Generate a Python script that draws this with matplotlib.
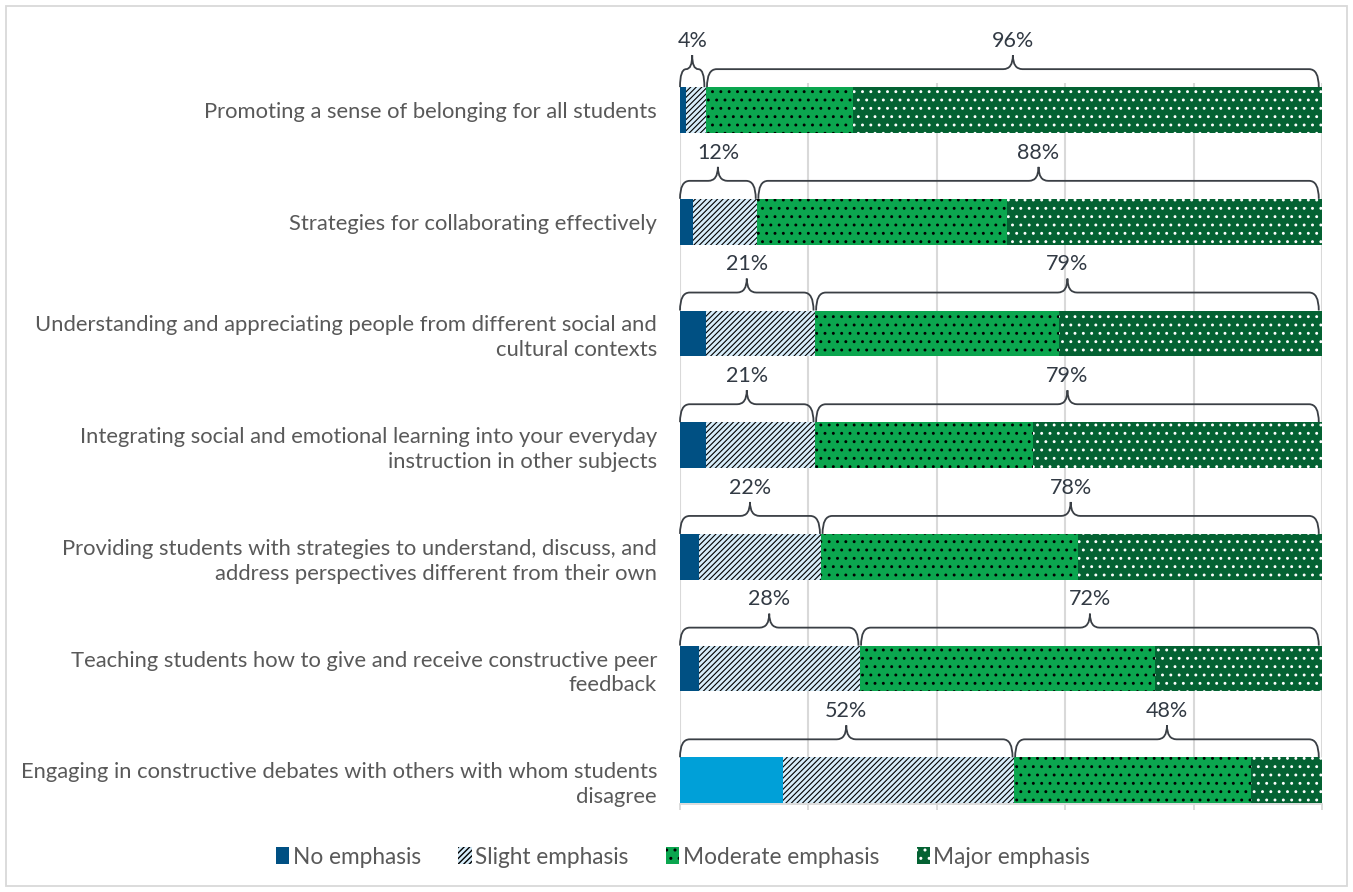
import matplotlib
matplotlib.use("Agg")
import matplotlib.pyplot as plt
from matplotlib.path import Path
from matplotlib.patches import PathPatch, Rectangle
import numpy as np

plt.rcParams["font.family"] = ["Lato", "DejaVu Sans"]

categories = [
    "Promoting a sense of belonging for all students",
    "Strategies for collaborating effectively",
    "Understanding and appreciating people from different social and\ncultural contexts",
    "Integrating social and emotional learning into your everyday\ninstruction in other subjects",
    "Providing students with strategies to understand, discuss, and\naddress perspectives different from their own",
    "Teaching students how to give and receive constructive peer\nfeedback",
    "Engaging in constructive debates with others with whom students\ndisagree",
]
series_names = ["No emphasis", "Slight emphasis", "Moderate emphasis", "Major emphasis"]
no_emphasis = [1, 2, 4, 4, 3, 3, 16]
slight_emphasis = [3, 10, 17, 17, 19, 25, 36]
moderate_emphasis = [23, 39, 38, 34, 40, 46, 37]
major_emphasis = [73, 49, 41, 45, 38, 26, 11]

# styles
no_colors = ["#005083"] * 6 + ["#00A0D8"]
styles = [
    dict(edgecolor="#005083", hatch=None, hlw=1.0),
    dict(color="#D7EDFA", edgecolor="black", hatch="//////", hlw=0.8),
    dict(color="#0BA64F", edgecolor="black", hatch="..", hlw=0.9),
    dict(color="#046233", edgecolor="white", hatch="..", hlw=0.9),
]

W, H = 1353, 892
fig = plt.figure(figsize=(W / 100, H / 100), dpi=100)
ax = fig.add_axes([680 / W, 1 - 804 / H, 642 / W, 721 / H])

y = np.arange(len(categories))
bar_h = 0.41
values = [no_emphasis, slight_emphasis, moderate_emphasis, major_emphasis]
left = np.zeros(len(categories))
handles = []
for k, (vals, st) in enumerate(zip(values, styles)):
    vals = np.asarray(vals, dtype=float)
    with plt.rc_context({"hatch.linewidth": st["hlw"]}):
        if k == 0:
            b = ax.barh(y, vals, left=left, height=bar_h, color=no_colors,
                        linewidth=0, label=series_names[k], zorder=3)
        else:
            b = ax.barh(y, vals, left=left, height=bar_h, color=st["color"],
                        edgecolor=st["edgecolor"], hatch=st["hatch"],
                        linewidth=0, label=series_names[k], zorder=3)
    handles.append(b)
    left = left + vals

ax.set_xlim(0, 100)
ax.set_ylim(6.213, -0.242)
ax.set_yticks(y)
ax.set_yticklabels(categories, fontsize=15.8, color="#595959", linespacing=1.3)
ax.tick_params(axis="y", length=0, pad=16.5)
ax.set_xticks(np.arange(0, 101, 20))
ax.set_xticklabels([])
ax.tick_params(axis="x", length=4, color="#D9D9D9", width=1.3)
ax.grid(axis="x", color="#D9D9D9", linewidth=1.5, zorder=0)
for s in ["top", "right", "left"]:
    ax.spines[s].set_visible(False)
ax.spines["bottom"].set_color("#D9D9D9")
ax.spines["bottom"].set_linewidth(1.3)


def brace(x0, x1, ybar, r=1.5):
    xm = (x0 + x1) / 2
    r = min(r, (x1 - x0) / 4)
    yl = ybar - 0.161
    yp = ybar - 0.286
    verts = [(x0, ybar), (x0, yl), (x0 + r, yl), (xm - r, yl),
             (xm, yl), (xm, yp), (xm, yl), (xm + r, yl),
             (x1 - r, yl), (x1, yl), (x1, ybar)]
    codes = [Path.MOVETO, Path.CURVE3, Path.CURVE3, Path.LINETO,
             Path.CURVE3, Path.CURVE3, Path.CURVE3, Path.CURVE3,
             Path.LINETO, Path.CURVE3, Path.CURVE3]
    ax.add_patch(PathPatch(Path(verts, codes), fill=False, edgecolor="#3A3F45",
                           linewidth=1.3, clip_on=False, zorder=4))
    return xm, yp


for i in range(len(categories)):
    low = no_emphasis[i] + slight_emphasis[i]
    high = moderate_emphasis[i] + major_emphasis[i]
    ytop = i - bar_h / 2
    xm, yp = brace(0, low - 0.2, ytop)
    ax.text(xm, yp - 0.075, f"{low}%", ha="center", va="baseline",
            fontsize=15.5, color="#323A44", zorder=5)
    xm, yp = brace(low + 0.2, 99.5, ytop)
    ax.text(xm, yp - 0.075, f"{high}%", ha="center", va="baseline",
            fontsize=15.5, color="#323A44", zorder=5)

fig.legend(handles=handles, labels=series_names, loc="center", ncol=4,
           bbox_to_anchor=(683 / W, 1 - 857 / H), frameon=False,
           fontsize=16.3, labelcolor="#595959", handlelength=0.6,
           handleheight=0.75, handletextpad=0.15, columnspacing=1.65)

fig.patches.append(Rectangle((6 / W, 6 / H), 1 - 12 / W, 1 - 12 / H,
                             transform=fig.transFigure, fill=False,
                             edgecolor="#D9D9D9", linewidth=1.3))

fig.savefig("out.png", dpi=100)
